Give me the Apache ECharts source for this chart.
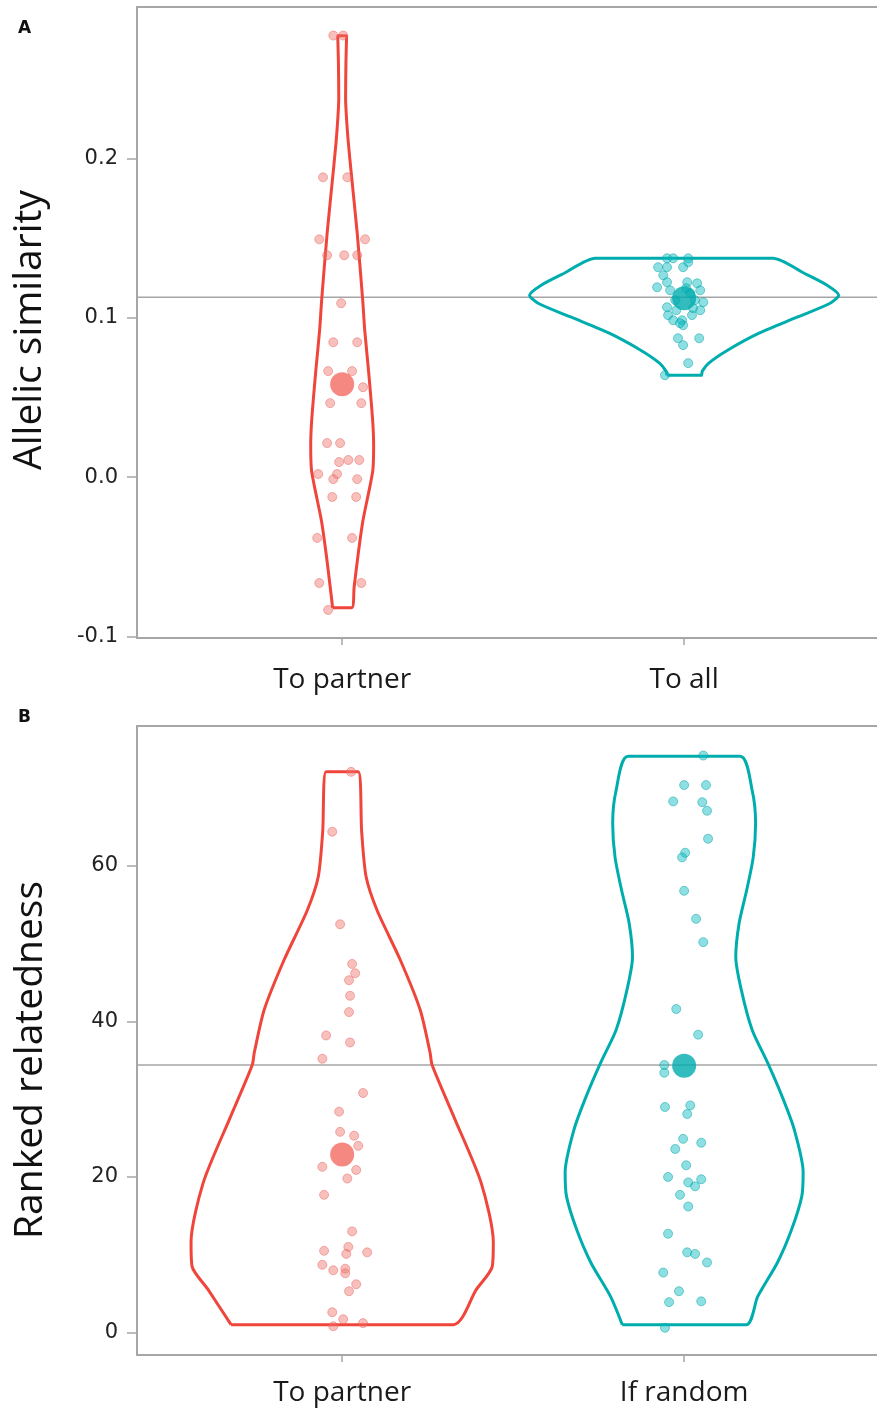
<!DOCTYPE html>
<html>
<head>
<meta charset="utf-8">
<script src="https://cdn.jsdelivr.net/npm/echarts@6/dist/echarts.min.js"></script>
<style>
  html, body { margin: 0; padding: 0; background: #ffffff; }
  #chart { width: 877px; height: 1411px; }
</style>
</head>
<body>
<div id="chart"></div>
<script>
// ---------- categories & ticks ----------
const categoriesA = ['To partner', 'To all'];
const categoriesB = ['To partner', 'If random'];
const yTicksA = [-0.1, 0.0, 0.1, 0.2];
const yTicksB = [0, 20, 40, 60];

// ---------- reference (overall mean) lines ----------
const refLineA = 0.1129;
const refLineB = 34.4;

// ---------- group means ----------
const meansA = [0.0583, 0.1122];
const meansB = [22.9, 34.3];

// ---------- violin outlines (value, half-width in category units), top -> bottom ----------
const violinA1Y = [0.277, 0.260, 0.238, 0.215, 0.194, 0.153, 0.111, 0.092, 0.067, 0.036, 0.020, 0.005, -0.006, -0.027, -0.048, -0.069, -0.082];
const violinA1W = [0.013, 0.011, 0.010, 0.016, 0.025, 0.044, 0.060, 0.066, 0.077, 0.089, 0.092, 0.090, 0.081, 0.061, 0.047, 0.035, 0.028];

const violinA2Y = [0.1373, 0.1279, 0.1204, 0.1141, 0.1091, 0.1003, 0.0903, 0.0796, 0.0715, 0.0665, 0.0639];
const violinA2W = [0.260, 0.351, 0.418, 0.452, 0.427, 0.330, 0.219, 0.127, 0.072, 0.053, 0.050];

const violinB1Y = [72.1, 64.4, 58.6, 54.3, 47.9, 41.5, 36.0, 34.4, 27.7, 19.3, 11.6, 8.5, 5.5, 1.0];
const violinB1W = [0.047, 0.057, 0.070, 0.102, 0.170, 0.228, 0.257, 0.263, 0.327, 0.406, 0.442, 0.439, 0.392, 0.325];

const violinB2Y = [74.1, 69.7, 65.5, 61.1, 56.9, 52.7, 48.3, 44.1, 38.9, 34.7, 30.3, 26.1, 20.6, 17.5, 13.2, 9.0, 4.6, 1.0];
const violinB2W = [0.164, 0.199, 0.209, 0.202, 0.183, 0.161, 0.151, 0.167, 0.199, 0.244, 0.287, 0.322, 0.348, 0.344, 0.314, 0.273, 0.215, 0.181];

// ---------- individual points (value, horizontal jitter in category units) ----------
const pointsA1Y = [0.2771, 0.2771, 0.1881, 0.1881, 0.1492, 0.1492, 0.1392, 0.1392, 0.1392, 0.1091, 0.0846, 0.0846, 0.0665, 0.0665, 0.0564, 0.0464, 0.0464, 0.0213, 0.0213, 0.0094, 0.0107, 0.0107, 0.0019, 0.0019, -0.0013, -0.0013, -0.0125, -0.0125, -0.0382, -0.0382, -0.0665, -0.0665, -0.0834];
const pointsA1J = [-0.026, 0.003, -0.056, 0.015, -0.067, 0.067, -0.044, 0.006, 0.044, -0.003, -0.026, 0.044, -0.041, 0.029, 0.061, -0.035, 0.056, -0.044, -0.006, -0.009, 0.018, 0.050, -0.070, -0.015, -0.026, 0.044, -0.029, 0.041, -0.073, 0.029, -0.067, 0.056, -0.041];

const pointsA2Y = [0.1373, 0.1373, 0.1373, 0.1317, 0.1317, 0.1317, 0.1348, 0.1266, 0.1223, 0.1191, 0.1223, 0.1216, 0.1172, 0.1172, 0.1097, 0.1047, 0.1066, 0.1016, 0.0984, 0.0984, 0.0953, 0.0966, 0.1016, 0.0871, 0.0828, 0.0871, 0.0715, 0.0639, 0.1154, 0.1110, 0.1110, 0.1185, 0.1060, 0.1047];
const pointsA2J = [-0.050, -0.032, 0.012, -0.076, -0.050, -0.003, 0.012, -0.061, -0.050, -0.079, 0.009, 0.038, 0.047, -0.041, 0.056, 0.047, -0.050, -0.047, -0.032, -0.006, -0.003, -0.012, 0.023, -0.018, -0.003, 0.044, 0.012, -0.056, 0.018, -0.026, 0.032, 0.006, 0.026, -0.023];

const pointsB1Y = [72.1, 64.4, 52.5, 47.4, 46.2, 45.3, 43.3, 41.2, 38.2, 37.3, 35.2, 30.8, 28.4, 25.8, 25.3, 24.0, 21.3, 20.9, 19.8, 17.7, 13.0, 10.5, 11.0, 10.1, 10.3, 8.7, 8.0, 8.2, 7.6, 6.2, 5.3, 2.6, 1.7, 1.2, 0.8];
const pointsB1J = [0.026, -0.029, -0.006, 0.029, 0.038, 0.020, 0.023, 0.020, -0.047, 0.023, -0.058, 0.061, -0.009, -0.006, 0.035, 0.047, -0.058, 0.041, 0.015, -0.053, 0.029, -0.053, 0.018, 0.012, 0.073, -0.058, -0.026, 0.009, 0.009, 0.041, 0.020, -0.029, 0.003, 0.061, -0.026];

const pointsB2Y = [74.2, 70.4, 70.4, 68.3, 68.2, 67.1, 63.5, 61.7, 61.1, 56.8, 53.2, 50.2, 41.6, 38.3, 34.4, 33.4, 29.0, 29.2, 28.1, 24.9, 24.4, 23.6, 21.5, 20.0, 19.3, 19.7, 18.8, 17.7, 16.2, 12.7, 10.3, 10.1, 9.0, 7.7, 5.3, 3.9, 4.0, 0.6];
const pointsB2J = [0.056, 0.000, 0.064, -0.032, 0.053, 0.067, 0.070, 0.003, -0.006, 0.000, 0.035, 0.056, -0.023, 0.041, -0.058, -0.058, -0.056, 0.018, 0.009, -0.003, 0.050, -0.026, 0.006, -0.047, 0.012, 0.050, 0.032, -0.012, 0.012, -0.047, 0.009, 0.032, 0.067, -0.061, -0.015, -0.044, 0.050, -0.056];

// ---------- styles ----------
const RED_LINE = '#F0453B';
const TEAL_LINE = '#00ADAE';
const RED_PT = 'rgba(240,112,104,0.55)';
const RED_PT_B = 'rgba(230,100,95,0.6)';
const TEAL_PT = 'rgba(10,185,190,0.58)';
const TEAL_PT_B = 'rgba(0,160,165,0.6)';
const RED_MEAN = '#F26A60';
const TEAL_MEAN = '#00ABAE';
const GRAY = '#a6a6a6';
const X_MIN = 0.4, X_MAX = 2.564;

function violinPath(center, ys, ws) {
  const n = ys.length;
  const out = [];
  for (let i = n - 1; i >= 0; i--) out.push([center - ws[i], ys[i]]);
  for (let i = 0; i < n; i++) out.push([center + ws[i], ys[i]]);
  out.push([center - ws[n - 1], ys[n - 1]]);
  return out;
}
function pointData(center, ys, js) {
  return ys.map((y, i) => [center + js[i], y]);
}

const chart = echarts.init(document.getElementById('chart'), null, { renderer: 'canvas' });

function xAxisFor(gridIndex, cats, margin) {
  return {
    type: 'value', gridIndex: gridIndex, min: X_MIN, max: X_MAX, position: 'bottom',
    axisLine: { show: true, onZero: false, lineStyle: { color: GRAY, width: 2 } },
    splitLine: { show: false },
    axisTick: { show: true, customValues: [1, 2], length: 7, lineStyle: { color: GRAY, width: 1.5 } },
    axisLabel: {
      customValues: [1, 2], margin: margin,
      formatter: v => cats[Math.round(v) - 1] || '',
      fontFamily: 'Open Sans', fontSize: 28, color: '#1a1a1a'
    }
  };
}
function xTopFor(gridIndex) {
  return {
    type: 'value', gridIndex: gridIndex, min: X_MIN, max: X_MAX, position: 'top',
    axisLine: { show: true, onZero: false, lineStyle: { color: GRAY, width: 2 } },
    splitLine: { show: false }, axisTick: { show: false }, axisLabel: { show: false }
  };
}
function yAxisFor(gridIndex, min, max, ticks, fmt) {
  return {
    type: 'value', gridIndex: gridIndex, min: min, max: max,
    axisLine: { show: true, onZero: false, lineStyle: { color: GRAY, width: 2 } },
    splitLine: { show: false },
    axisTick: { show: true, customValues: ticks, length: 10, lineStyle: { color: GRAY, width: 1.5 } },
    axisLabel: {
      customValues: ticks, margin: 19, formatter: fmt,
      fontFamily: 'DejaVu Sans', fontSize: 21, color: '#222'
    }
  };
}

function violinSeries(xi, yi, data, color) {
  return {
    type: 'line', xAxisIndex: xi, yAxisIndex: yi, data: data,
    showSymbol: false, symbol: 'none', smooth: 0.25, z: 3,
    lineStyle: { color: color, width: 3 }, silent: true, animation: false
  };
}
function pointSeries(xi, yi, data, fill, stroke) {
  return {
    type: 'scatter', xAxisIndex: xi, yAxisIndex: yi, data: data,
    symbol: 'circle', symbolSize: 9, z: 4,
    itemStyle: { color: fill, borderColor: stroke, borderWidth: 1 }, animation: false
  };
}
function meanSeries(xi, yi, means) {
  return {
    type: 'scatter', xAxisIndex: xi, yAxisIndex: yi,
    data: [
      { value: [1, means[0]], itemStyle: { color: RED_MEAN } },
      { value: [2, means[1]], itemStyle: { color: TEAL_MEAN } }
    ],
    symbol: 'circle', symbolSize: 24, z: 5, animation: false
  };
}
function refSeries(xi, yi, ref) {
  return {
    type: 'line', xAxisIndex: xi, yAxisIndex: yi,
    data: [[X_MIN, ref], [X_MAX, ref]], symbol: 'none', z: 2,
    lineStyle: { color: GRAY, width: 1.5 }, silent: true, animation: false
  };
}

const option = {
  backgroundColor: '#ffffff',
  animation: false,
  grid: [
    { left: 137, top: 7, right: 0, height: 631 },
    { left: 137, top: 726, right: 0, height: 629 }
  ],
  xAxis: [xAxisFor(0, categoriesA, 28), xAxisFor(1, categoriesB, 24), xTopFor(0), xTopFor(1)],
  yAxis: [
    yAxisFor(0, -0.101, 0.295, yTicksA, v => v.toFixed(1)),
    yAxisFor(1, -2.9, 78.0, yTicksB, v => String(Math.round(v)))
  ],
  graphic: [
    { type: 'text', left: 18, top: 20, style: { text: 'A', fontFamily: 'DejaVu Sans', fontWeight: 'bold', fontSize: 17, fill: '#111' } },
    { type: 'text', left: 18, top: 709, style: { text: 'B', fontFamily: 'DejaVu Sans', fontWeight: 'bold', fontSize: 17, fill: '#111' } },
    { type: 'text', x: 30, y: 330, rotation: Math.PI / 2,
      style: { text: 'Allelic similarity', fontFamily: 'Open Sans', fontSize: 39, fill: '#111', align: 'center', verticalAlign: 'middle' } },
    { type: 'text', x: 31, y: 1060, rotation: Math.PI / 2,
      style: { text: 'Ranked relatedness', fontFamily: 'Open Sans', fontSize: 39, fill: '#111', align: 'center', verticalAlign: 'middle' } }
  ],
  series: [
    refSeries(0, 0, refLineA),
    violinSeries(0, 0, violinPath(1, violinA1Y, violinA1W), RED_LINE),
    violinSeries(0, 0, violinPath(2, violinA2Y, violinA2W), TEAL_LINE),
    pointSeries(0, 0, pointData(1, pointsA1Y, pointsA1J), RED_PT, RED_PT_B),
    pointSeries(0, 0, pointData(2, pointsA2Y, pointsA2J), TEAL_PT, TEAL_PT_B),
    meanSeries(0, 0, meansA),

    refSeries(1, 1, refLineB),
    violinSeries(1, 1, violinPath(1, violinB1Y, violinB1W), RED_LINE),
    violinSeries(1, 1, violinPath(2, violinB2Y, violinB2W), TEAL_LINE),
    pointSeries(1, 1, pointData(1, pointsB1Y, pointsB1J), RED_PT, RED_PT_B),
    pointSeries(1, 1, pointData(2, pointsB2Y, pointsB2J), TEAL_PT, TEAL_PT_B),
    meanSeries(1, 1, meansB)
  ]
};
chart.setOption(option);
</script>
</body>
</html>
